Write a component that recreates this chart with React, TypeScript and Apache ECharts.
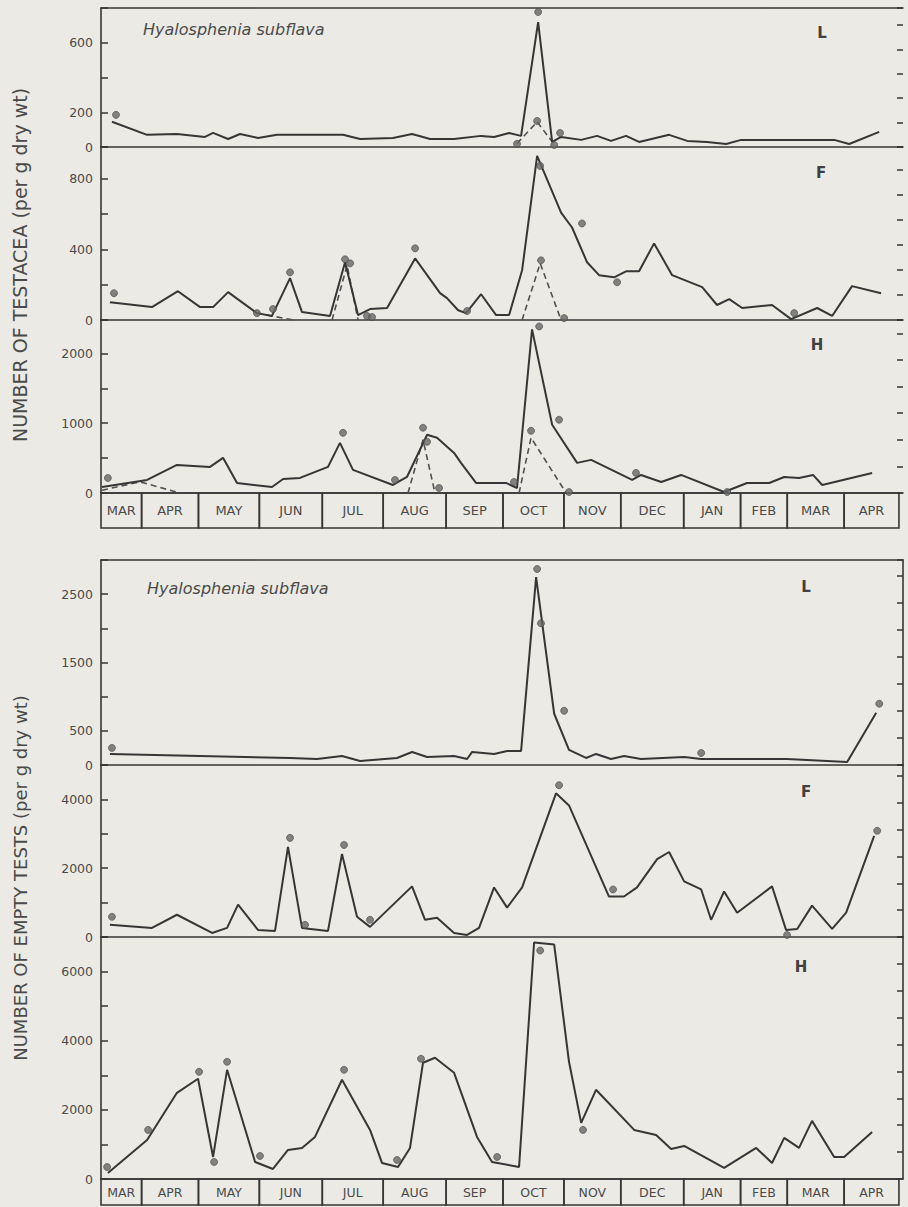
import React, { useEffect, useRef } from "react";
import * as echarts from "echarts";

// ---------- DATA (x = days from the start of the record, y = number per g dry wt) ----------
const MONTHS = ["MAR", "APR", "MAY", "JUN", "JUL", "AUG", "SEP", "OCT", "NOV", "DEC", "JAN", "FEB", "MAR", "APR"];
const MONTH_EDGES = [0, 20, 48, 78, 109, 139, 170, 198, 228, 256, 287, 315, 338, 366, 393];

const topL_solid = [[5.4,145],[22.7,70],[37.4,75],[51.2,58],[55.2,81],[62.6,46],[68.5,75],[77.3,52],[86.7,70],[119.2,70],[127.6,46],[143.8,52],[153.2,75],[162.1,46],[173.9,46],[187.2,64],[193.6,58],[201,81],[206.9,64],[215.3,719],[222.2,29],[226.6,58],[236.5,41],[244.3,64],[251.2,35],[258.6,64],[265,29],[279.8,70],[288.7,35],[298.5,29],[307.9,17],[315.3,41],[361.1,41],[368.5,17],[383.3,87]];
const topL_dashed = [[[204.9,20],[214.8,145],[223.2,15]]];
const topL_dots = [[7.4,185],[215.3,777],[204.9,18],[214.8,150],[223.2,12],[226.1,81]];

const topF_solid = [[4.4,101],[25.1,73],[37.9,163],[48.8,73],[55.2,73],[62.6,158],[76.8,39],[84.2,23],[93.1,237],[99,45],[112.8,23],[120.2,327],[126.6,28],[132.5,62],[140.9,68],[154.7,349],[167,152],[170.4,124],[175.9,55],[179.8,39],[187.2,146],[194.6,28],[201,28],[207.4,282],[214.8,930],[226.6,608],[232,524],[239.4,327],[245.3,254],[252.7,242],[258.6,276],[265,276],[272.4,434],[281.3,254],[296.1,186],[303.4,85],[309.4,118],[315.8,68],[330.5,85],[339.9,5],[352.7,68],[360.1,23],[369.9,192],[384.2,152]];
const topF_dashed = [[[76.8,39],[94.6,0]],[[113.8,0],[121.2,310],[126.6,0]],[[207.4,0],[216.3,321],[226.6,0]]];
const topF_dots = [[6.4,152],[76.8,39],[84.7,62],[93.1,270],[120.2,344],[122.7,321],[131,23],[133.5,17],[154.7,406],[180.3,51],[216.3,873],[216.7,338],[228.1,11],[236.9,547],[254.2,214],[341.4,39]];

const topH_solid = [[0.5,86],[22.7,187],[37.4,403],[53.7,374],[60.1,504],[67,144],[84.2,86],[89.7,201],[98,216],[111.8,374],[117.7,719],[124.1,331],[143.8,115],[150.7,230],[160.6,835],[165.5,791],[173.9,575],[177.3,432],[184.7,144],[199.5,144],[204.9,72],[212.3,2345],[222.2,978],[234.5,432],[241.4,475],[261.6,187],[266,259],[275.9,158],[285.7,259],[306.9,14],[318.2,144],[329.1,144],[336.5,230],[343.8,216],[350.7,259],[355.2,115],[379.8,288]];
const topH_dashed = [[[0.5,40],[19.2,160],[38.9,0]],[[151.2,0],[158.6,763],[164.5,0]],[[205.9,0],[211.8,791],[229.1,0]]];
const topH_dots = [[3.4,216],[119.2,863],[144.8,187],[158.6,935],[160.6,734],[166.5,72],[203.4,158],[215.8,2388],[211.8,892],[225.6,1050],[230.5,14],[263.5,288],[308.4,14]];

const botL_solid = [[4.4,162],[93.1,103],[106.4,88],[118.7,132],[127.6,59],[145.8,103],[153.2,191],[160.6,118],[173.9,132],[180.3,88],[182.8,191],[193.6,162],[200,206],[206.9,206],[214.3,2750],[223.2,750],[230.5,221],[238.9,103],[243.8,162],[251.2,88],[257.6,132],[266,88],[287.2,118],[295.6,88],[337.9,88],[367.5,44],[381.8,765]];
const botL_dots = [[5.4,250],[214.8,2868],[216.7,2074],[228.1,794],[295.6,176],[383.3,897]];

const botF_solid = [[4.4,353],[25.1,265],[37.4,647],[54.7,118],[62.1,265],[67.5,941],[77.3,206],[85.7,176],[92.1,2618],[99,265],[111.8,176],[118.7,2412],[126.1,588],[132.5,294],[153.2,1471],[159.6,500],[165.5,559],[173.9,118],[180.3,59],[186.2,265],[193.6,1441],[200,853],[207.4,1441],[224.1,4176],[230.5,3824],[250.2,1176],[257.6,1176],[264,1441],[273.9,2265],[279.8,2471],[287.2,1618],[295.6,1382],[300.5,500],[306.9,1324],[313.3,706],[330.5,1471],[337.4,206],[342.9,235],[350.2,912],[360.1,235],[367,706],[380.8,2941]];
const botF_dots = [[5.4,588],[93.1,2882],[100.5,353],[119.7,2676],[132.5,500],[225.6,4412],[252.2,1382],[337.9,59],[382.3,3088]];

const botH_solid = [[3.4,174],[22.7,1130],[37.4,2493],[47.8,2899],[55.2,638],[62.1,3159],[75.9,493],[84.7,290],[92.1,841],[99,899],[105.4,1217],[118.7,2870],[132.5,1420],[138.4,464],[146.3,348],[152.2,899],[158.6,3362],[164.5,3507],[173.9,3072],[185.2,1217],[192.6,493],[205.9,348],[213.3,6841],[223.2,6783],[230.5,3391],[236.5,1623],[243.8,2580],[262.6,1420],[273.4,1275],[280.8,870],[287.2,957],[306.9,319],[322.7,899],[330.5,464],[336.5,1188],[343.8,899],[350.2,1681],[361.1,638],[366,638],[379.8,1362]];
const botH_dots = [[3,348],[23.2,1420],[48.3,3101],[55.7,493],[62.1,3391],[78.3,667],[119.7,3159],[145.8,551],[157.6,3478],[195.1,638],[216.3,6609],[237.4,1420]];

const PANEL_LETTERS = ["L", "F", "H", "L", "F", "H"];
const Y_LABELS = [[0, 200, 600], [0, 400, 800], [0, 1000, 2000], [0, 500, 1500, 2500], [0, 2000, 4000], [0, 2000, 4000, 6000]];
const Y_MAX = [800, 980, 2480, 3000, 5000, 7000];
const Y_INTERVAL = [200, 200, 500, 500, 1000, 1000];
const TITLE = "Hyalosphenia subflava";
const Y_NAME_TOP = "NUMBER OF TESTACEA (per g dry wt)";
const Y_NAME_BOTTOM = "NUMBER OF EMPTY TESTS (per g dry wt)";

const SOLID = [topL_solid, topF_solid, topH_solid, botL_solid, botF_solid, botH_solid];
const DASHED = [topL_dashed, topF_dashed, topH_dashed, [], [], []];
const DOTS = [topL_dots, topF_dots, topH_dots, botL_dots, botF_dots, botH_dots];

// ---------- LAYOUT ----------
const LEFT = 101;
const RIGHT = 5;
const X_MAX = 395;
const PANEL_BOX = [
  { top: 8, height: 139, rmax: 5.7, rline: false, letter: [822, 33] },
  { top: 147, height: 173, rmax: 6.9, rline: false, letter: [821, 173] },
  { top: 320, height: 173, rmax: 6.5, rline: false, letter: [817, 345] },
  { top: 560, height: 205, rmax: 7.6, rline: true, letter: [806, 587] },
  { top: 765, height: 172, rmax: 6.4, rline: true, letter: [806, 792] },
  { top: 937, height: 242, rmax: 9, rline: true, letter: [801, 967] },
];
const MONTH_ROWS = [
  { top: 493, height: 35 },
  { top: 1179, height: 26 },
];

const INK = "#363636";
const TEXT = "#4a4a4a";
const FONT = "DejaVu Sans";
const BG = "#ebeae5";

export default function App() {
  const ref = useRef<HTMLDivElement>(null);

  useEffect(() => {
    document.body.style.margin = "0";
    document.body.style.background = BG;
    if (!ref.current) return;
    const chart = echarts.init(ref.current, undefined, { renderer: "svg" });

    const grid: any[] = [];
    const xAxis: any[] = [];
    const yAxis: any[] = [];
    const series: any[] = [];
    const axisLineStyle = { color: INK, width: 1.6 };

    PANEL_BOX.forEach((p, i) => {
      grid.push({ left: LEFT, right: RIGHT, top: p.top, height: p.height, containLabel: false });
      xAxis.push({
        gridIndex: i, type: "value", min: 0, max: X_MAX, position: "bottom",
        axisLine: { show: true, onZero: false, lineStyle: axisLineStyle },
        axisTick: { show: false }, axisLabel: { show: false }, splitLine: { show: false },
      });
    });
    // top borders of the two groups
    [0, 3].forEach((gi) => {
      xAxis.push({
        gridIndex: gi, type: "value", min: 0, max: X_MAX, position: "top",
        axisLine: { show: true, onZero: false, lineStyle: axisLineStyle },
        axisTick: { show: false }, axisLabel: { show: false }, splitLine: { show: false },
      });
    });
    // month rows
    MONTH_ROWS.forEach((m, k) => {
      grid.push({ left: LEFT, right: RIGHT, top: m.top, height: m.height });
      xAxis.push({
        gridIndex: 6 + k, type: "value", min: 0, max: X_MAX, show: false,
      });
    });

    PANEL_BOX.forEach((p, i) => {
      const labels = Y_LABELS[i];
      yAxis.push({
        gridIndex: i, type: "value", min: 0, max: Y_MAX[i], interval: Y_INTERVAL[i], position: "left",
        axisLine: { show: true, onZero: false, lineStyle: axisLineStyle },
        axisTick: { show: true, inside: true, length: 7, lineStyle: { color: INK, width: 1.5 } },
        axisLabel: {
          show: true, margin: 8, color: TEXT, fontFamily: FONT, fontSize: 12.5,
          formatter: (v: number) => (labels.indexOf(v) >= 0 ? String(v) : ""),
        },
        splitLine: { show: false },
      });
      yAxis.push({
        gridIndex: i, type: "value", min: 0, max: p.rmax, interval: 1, position: "right",
        axisLine: { show: p.rline, onZero: false, lineStyle: axisLineStyle },
        axisTick: { show: true, inside: true, length: 6, lineStyle: { color: INK, width: 1.5 } },
        axisLabel: { show: false }, splitLine: { show: false },
      });
    });
    MONTH_ROWS.forEach((m, k) => {
      yAxis.push({ gridIndex: 6 + k, type: "value", min: 0, max: 1, show: false });
    });

    PANEL_BOX.forEach((p, i) => {
      series.push({
        type: "line", xAxisIndex: i, yAxisIndex: 2 * i, data: SOLID[i],
        showSymbol: false, symbol: "none",
        lineStyle: { color: INK, width: 2 }, z: 3, silent: true,
      });
      DASHED[i].forEach((seg: number[][]) => {
        series.push({
          type: "line", xAxisIndex: i, yAxisIndex: 2 * i, data: seg,
          showSymbol: false, symbol: "none",
          lineStyle: { color: "#505050", width: 1.6, type: [6, 4] }, z: 2, silent: true,
        });
      });
      series.push({
        type: "scatter", xAxisIndex: i, yAxisIndex: 2 * i, data: DOTS[i],
        symbol: "circle", symbolSize: 7,
        itemStyle: { color: "#666", borderColor: "#484848", borderWidth: 0.8 }, z: 4, silent: true,
      });
    });

    const monthData = MONTHS.map((_, idx) => [MONTH_EDGES[idx], MONTH_EDGES[idx + 1], idx]);
    MONTH_ROWS.forEach((m, k) => {
      series.push({
        type: "custom", xAxisIndex: 8 + k, yAxisIndex: 12 + k, data: monthData, clip: false, silent: true,
        renderItem: (params: any, api: any) => {
          const s = api.value(0), e = api.value(1), idx = api.value(2);
          const p0 = api.coord([s, 1]);
          const p1 = api.coord([e, 0]);
          return {
            type: "group",
            children: [
              {
                type: "rect",
                shape: { x: p0[0], y: p0[1], width: p1[0] - p0[0], height: p1[1] - p0[1] },
                style: { fill: "none", stroke: INK, lineWidth: 1.6 },
              },
              {
                type: "text",
                style: {
                  text: MONTHS[idx], x: (p0[0] + p1[0]) / 2, y: (p0[1] + p1[1]) / 2,
                  align: "center", verticalAlign: "middle",
                  fill: TEXT, fontFamily: FONT, fontSize: k === 0 ? 13 : 12.5,
                },
              },
            ],
          };
        },
      });
    });

    const graphic: any[] = [
      {
        type: "text", x: 20, y: 265, rotation: Math.PI / 2,
        style: { text: Y_NAME_TOP, align: "center", verticalAlign: "middle", fill: TEXT, fontFamily: FONT, fontSize: 19 },
      },
      {
        type: "text", x: 20, y: 878, rotation: Math.PI / 2,
        style: { text: Y_NAME_BOTTOM, align: "center", verticalAlign: "middle", fill: TEXT, fontFamily: FONT, fontSize: 18 },
      },
      {
        type: "text", x: 143, y: 29,
        style: { text: TITLE, align: "left", verticalAlign: "middle", fill: TEXT, fontFamily: FONT, fontSize: 16, fontStyle: "italic" },
      },
      {
        type: "text", x: 147, y: 588,
        style: { text: TITLE, align: "left", verticalAlign: "middle", fill: TEXT, fontFamily: FONT, fontSize: 16, fontStyle: "italic" },
      },
    ];
    PANEL_BOX.forEach((p, i) => {
      graphic.push({
        type: "text", x: p.letter[0], y: p.letter[1],
        style: { text: PANEL_LETTERS[i], align: "center", verticalAlign: "middle", fill: "#404040", fontFamily: FONT, fontSize: 15, fontWeight: "bold" },
      });
    });

    chart.setOption({
      animation: false,
      backgroundColor: BG,
      grid, xAxis, yAxis, series, graphic,
    });

    return () => chart.dispose();
  }, []);

  return <div ref={ref} style={{ width: 908, height: 1207 }} />;
}
